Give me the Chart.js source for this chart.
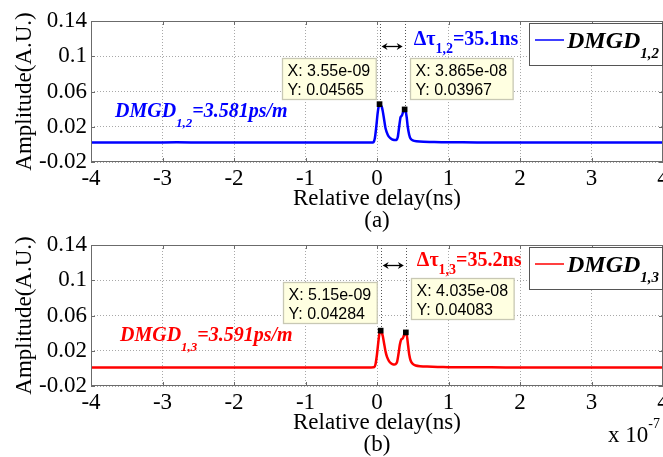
<!DOCTYPE html>
<html>
<head>
<meta charset="utf-8">
<title>DMGD pulse delay</title>
<script src="https://cdn.jsdelivr.net/npm/chart.js"></script>
<style>
  html, body { margin: 0; padding: 0; background: #fff; overflow: hidden; }
  .wrap { position: relative; width: 663px; height: 457px; overflow: hidden; }
  canvas { position: absolute; left: 0; }
  #chartA { top: 0; }
  #chartB { top: 224px; }
</style>
</head>
<body>
<div class="wrap">
  <canvas id="chartA" width="700" height="233"></canvas>
  <canvas id="chartB" width="700" height="233"></canvas>
</div>
<script>
// axis ticks (x in units of 1e-7 s)
const xTicks = [-4, -3, -2, -1, 0, 1, 2, 3, 4];
const yTicks = [-0.02, 0.02, 0.06, 0.1, 0.14];

// panel (a): modes 1,2
const delayA = [-4.0, -3.6, -3.2, -2.8, -2.4, -2.0, -1.6, -1.2, -0.8, -0.4,
  -0.1, -0.05, -0.03, -0.01, 0.01, 0.025, 0.0355, 0.05, 0.065, 0.08,
  0.1, 0.12, 0.15, 0.18, 0.21, 0.24, 0.27, 0.29, 0.31, 0.33,
  0.35, 0.37, 0.3865, 0.4, 0.415, 0.43, 0.45, 0.47, 0.5, 0.55,
  0.65, 0.8, 1.0, 1.4, 1.8, 2.2, 2.6, 3.0, 3.4, 3.8, 4.0];
const ampA = [0.0021, 0.0022, 0.0021, 0.0023, 0.0021, 0.0022, 0.0021, 0.0022, 0.0021, 0.0022,
  0.0022, 0.0025, 0.007, 0.02, 0.036, 0.0435, 0.04565, 0.0445, 0.043, 0.038,
  0.028, 0.018, 0.011, 0.0075, 0.0058, 0.005, 0.005, 0.008, 0.02, 0.031,
  0.033, 0.038, 0.03967, 0.038, 0.031, 0.02, 0.011, 0.0065, 0.0045, 0.0036,
  0.003, 0.0027, 0.0024, 0.0022, 0.0021, 0.0022, 0.0021, 0.0021, 0.0022, 0.0021, 0.0021];
const peakDelayA = [0.0355, 0.3865];
const peakAmpA = [0.04565, 0.03967];

// panel (b): modes 1,3
const delayB = [-4.0, -3.6, -3.2, -2.8, -2.4, -2.0, -1.6, -1.2, -0.8, -0.4,
  -0.1, -0.04, -0.02, 0.0, 0.02, 0.035, 0.0515, 0.065, 0.08, 0.1,
  0.12, 0.14, 0.17, 0.2, 0.23, 0.26, 0.28, 0.3, 0.32, 0.34,
  0.36, 0.38, 0.4035, 0.42, 0.435, 0.45, 0.47, 0.5, 0.54, 0.6,
  0.7, 0.85, 1.0, 1.4, 1.8, 2.2, 2.6, 3.0, 3.4, 3.8, 4.0];
const ampB = [0.001, 0.0011, 0.001, 0.0011, 0.001, 0.001, 0.0011, 0.001, 0.0011, 0.001,
  0.0011, 0.0014, 0.005, 0.016, 0.031, 0.040, 0.04284, 0.041, 0.037, 0.028,
  0.019, 0.013, 0.008, 0.0055, 0.0045, 0.0047, 0.007, 0.016, 0.027, 0.033,
  0.034, 0.038, 0.04083, 0.036, 0.026, 0.016, 0.009, 0.005, 0.0033, 0.0025,
  0.002, 0.0017, 0.0014, 0.0012, 0.0011, 0.001, 0.001, 0.0011, 0.001, 0.001, 0.001];
const peakDelayB = [0.0515, 0.4035];
const peakAmpB = [0.04284, 0.04083];

const seriesNames = ['DMGD', 'DMGD'];
const modePairs = ['1,2', '1,3'];
const dmgdValues = ['3.581ps/m', '3.591ps/m'];
const deltaTau = ['35.1ns', '35.2ns'];
const panelTags = ['(a)', '(b)'];

const SERIF = '"Liberation Serif", "Times New Roman", serif';
const SANS = '"Liberation Sans", Arial, sans-serif';

function fmtX(v) {
  const [m, e] = Number((v * 1e-7).toPrecision(4)).toExponential().split('e');
  const n = Math.abs(parseInt(e, 10));
  return 'X: ' + m + 'e' + (e[0] === '-' ? '-' : '+') + String(n).padStart(2, '0');
}
function fmtY(v) { return 'Y: ' + Number(v.toPrecision(4)); }

// draws a run of text pieces [text, font, dy] side by side
function richText(ctx, x, y, parts) {
  ctx.textBaseline = 'alphabetic';
  ctx.textAlign = 'left';
  for (const [t, f, dy] of parts) {
    ctx.font = f;
    ctx.fillText(t, x, y + dy);
    x += ctx.measureText(t).width;
  }
  return x;
}

const decor = {
  id: 'decor',
  afterDatasetsDraw(chart, args, o) {
    const { ctx, chartArea: a, scales: { x, y } } = chart;
    ctx.save();

    // axes box and inward ticks
    ctx.setLineDash([]);
    ctx.strokeStyle = '#6b6b6b';
    ctx.lineWidth = 1;
    ctx.strokeRect(a.left + 0.5, a.top + 0.5, a.right - a.left - 1, a.bottom - a.top - 1);
    ctx.beginPath();
    x.ticks.forEach(t => {
      const px = Math.round(x.getPixelForValue(t.value)) + 0.5;
      ctx.moveTo(px, a.bottom); ctx.lineTo(px, a.bottom - 4);
      ctx.moveTo(px, a.top); ctx.lineTo(px, a.top + 4);
    });
    y.ticks.forEach(t => {
      const py = Math.round(y.getPixelForValue(t.value)) + 0.5;
      ctx.moveTo(a.left, py); ctx.lineTo(a.left + 4, py);
      ctx.moveTo(a.right, py); ctx.lineTo(a.right - 4, py);
    });
    ctx.stroke();

    const px = o.peakX.map(v => x.getPixelForValue(v));
    const py = o.peakY.map(v => y.getPixelForValue(v));

    // dotted guides from the peaks up to the top
    ctx.strokeStyle = '#555';
    ctx.setLineDash([1, 2]);
    ctx.beginPath();
    px.forEach((p, i) => {
      const xx = Math.round(p) + 0.5;
      ctx.moveTo(xx, a.top); ctx.lineTo(xx, py[i] - 3);
    });
    ctx.stroke();
    ctx.setLineDash([]);

    // double arrow between the peaks
    const ay = a.top + o.arrowDy + 0.5;
    const x0 = px[0] + 2, x1 = px[1] - 2;
    ctx.strokeStyle = '#000';
    ctx.fillStyle = '#000';
    ctx.lineWidth = 1.3;
    ctx.beginPath();
    ctx.moveTo(x0 + 3, ay); ctx.lineTo(x1 - 3, ay);
    ctx.stroke();
    ctx.beginPath();
    ctx.moveTo(x0, ay); ctx.lineTo(x0 + 6, ay - 3.5); ctx.lineTo(x0 + 4, ay); ctx.lineTo(x0 + 6, ay + 3.5); ctx.closePath();
    ctx.moveTo(x1, ay); ctx.lineTo(x1 - 6, ay - 3.5); ctx.lineTo(x1 - 4, ay); ctx.lineTo(x1 - 6, ay + 3.5); ctx.closePath();
    ctx.fill();

    // delta tau label
    ctx.fillStyle = o.color;
    richText(ctx, px[1] + o.deltaDx, a.top + o.deltaDy, [
      ['\u0394\u03c4', 'bold 20px ' + SERIF, 0],
      [o.pair, 'bold 14px ' + SERIF, 8],
      ['=' + o.delta, 'bold 20px ' + SERIF, 0]
    ]);

    // data tips
    ctx.font = '16px ' + SANS;
    px.forEach((p, i) => {
      const l1 = fmtX(o.peakX[i]), l2 = fmtY(o.peakY[i]);
      const w = Math.max(ctx.measureText(l1).width, ctx.measureText(l2).width) + 11;
      const h = 41;
      let bx, by;
      if (i === 0) { bx = p - 4 - w; by = py[i] - 4 - h - o.tipLift; }
      else { bx = p + 5; by = py[i] - 9 - h - o.tipLift; }
      bx = Math.round(bx) + 0.5; by = Math.round(by) + 0.5;
      ctx.fillStyle = '#ffffe1';
      ctx.strokeStyle = '#c8c8b4';
      ctx.fillRect(bx, by, w, h);
      ctx.strokeRect(bx, by, w, h);
      ctx.fillStyle = '#000';
      ctx.textAlign = 'left';
      ctx.textBaseline = 'alphabetic';
      ctx.fillText(l1, bx + 5, by + 17);
      ctx.fillText(l2, bx + 5, by + 36);
    });

    // DMGD value text
    ctx.fillStyle = o.color;
    richText(ctx, a.left + o.textDx, a.top + 96, [
      [o.name, 'italic bold 20px ' + SERIF, 0],
      [o.pair, 'italic bold 13px ' + SERIF, 10],
      ['=' + o.value, 'italic bold 20px ' + SERIF, 0]
    ]);

    // legend box
    const lx = a.right - 133.5, ly = a.top + 2.5;
    ctx.fillStyle = '#fff';
    ctx.strokeStyle = '#555';
    ctx.lineWidth = 1;
    ctx.fillRect(lx, ly, 133, 42);
    ctx.strokeRect(lx, ly, 133, 42);
    ctx.strokeStyle = o.color;
    ctx.lineWidth = 1.5;
    ctx.beginPath();
    ctx.moveTo(a.right - 128, a.top + 19); ctx.lineTo(a.right - 99, a.top + 19);
    ctx.stroke();
    ctx.fillStyle = '#000';
    richText(ctx, a.right - 96, a.top + 27, [
      [o.name, 'italic bold 24px ' + SERIF, 0],
      [o.pair, 'italic bold 15px ' + SERIF, 10]
    ]);

    // axis multiplier
    if (o.showExp) {
      ctx.fillStyle = '#000';
      const ex = richText(ctx, a.right - 55, a.bottom + 56, [['x 10', '23px ' + SERIF, 0]]);
      richText(ctx, ex, a.bottom + 42, [['-7', '14px ' + SERIF, 0]]);
    }
    ctx.restore();
  }
};

function makePanel(id, k, delay, amp, peakX, peakY, color, extra) {
  const tickFont = { family: SERIF, size: 23 };
  return new Chart(document.getElementById(id), {
    type: 'line',
    data: {
      datasets: [
        {
          label: seriesNames[k] + ' ' + modePairs[k],
          data: delay.map((d, i) => ({ x: d, y: amp[i] })),
          borderColor: color,
          borderWidth: 2.5,
          pointRadius: 0,
          tension: 0.2,
          order: 2
        },
        {
          label: 'data tips',
          data: peakX.map((d, i) => ({ x: d, y: peakY[i] })),
          showLine: false,
          pointStyle: 'rect',
          pointRadius: 4,
          pointBackgroundColor: '#000',
          pointBorderColor: '#000',
          pointBorderWidth: 0,
          order: 1
        }
      ]
    },
    options: {
      responsive: false,
      animation: false,
      devicePixelRatio: 1,
      layout: { padding: { top: 21, right: 37, bottom: 0, left: 0 } },
      plugins: {
        legend: { display: false },
        tooltip: { enabled: false },
        decor: Object.assign({
          peakX, peakY, color,
          name: seriesNames[k], pair: modePairs[k],
          value: dmgdValues[k], delta: deltaTau[k]
        }, extra)
      },
      scales: {
        x: {
          type: 'linear', min: -4, max: 4,
          afterBuildTicks: s => { s.ticks = xTicks.map(v => ({ value: v })); },
          afterFit: s => { s.height = 71; },
          ticks: { font: tickFont, color: '#000', padding: 3, maxRotation: 0, autoSkip: false,
                   callback: v => String(v) },
          grid: { color: '#a8a8a8', lineWidth: 1, drawTicks: false },
          border: { display: false, dash: [1, 2] },
          title: { display: true, text: ['Relative delay(ns)', panelTags[k]], color: '#000',
                   font: { family: SERIF, size: 23, lineHeight: 0.96 }, padding: { top: 0, bottom: 1 } }
        },
        y: {
          min: -0.02, max: 0.14,
          afterBuildTicks: s => { s.ticks = yTicks.map(v => ({ value: v })); },
          afterFit: s => { s.width = 91; },
          ticks: { font: tickFont, color: '#000', padding: 4,
                   callback: v => String(Number(v.toFixed(2))) },
          grid: { color: '#a8a8a8', lineWidth: 1, drawTicks: false },
          border: { display: false, dash: [1, 2] },
          title: { display: true, text: 'Amplitude(A.U.)', color: '#000',
                   font: { family: SERIF, size: 23, lineHeight: 1.2 }, padding: { top: 11, bottom: 0 } }
        }
      }
    },
    plugins: [decor]
  });
}

makePanel('chartA', 0, delayA, ampA, peakDelayA, peakAmpA, '#0000ff',
  { arrowDy: 25, deltaDx: 9, deltaDy: 24, textDx: 24, tipLift: 1, showExp: false });
makePanel('chartB', 1, delayB, ampB, peakDelayB, peakAmpB, '#ff0000',
  { arrowDy: 20, deltaDx: 11, deltaDy: 21, textDx: 29, tipLift: 4, showExp: true });
</script>
</body>
</html>
